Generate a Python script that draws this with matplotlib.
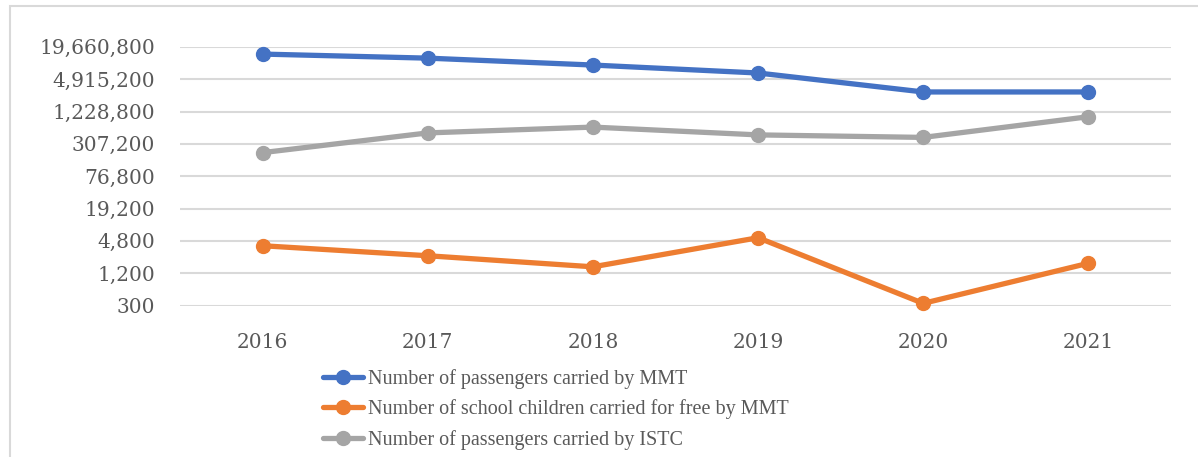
import matplotlib.pyplot as plt
from matplotlib.patches import Rectangle
from matplotlib.ticker import FixedLocator

# Data (log scale, base 4)
years = ["2016", "2017", "2018", "2019", "2020", "2021"]
mmt_passengers = [14400000, 12100000, 9000000, 6400000, 2840000, 2840000]
mmt_school_children = [3900, 2540, 1580, 5500, 330, 1840]
istc_passengers = [211000, 491000, 630000, 451000, 405000, 983000]
y_ticks = [300, 1200, 4800, 19200, 76800, 307200, 1228800, 4915200, 19660800]

labels = ["Number of passengers carried by MMT",
          "Number of school children carried for free by MMT",
          "Number of passengers carried by ISTC"]
colors = ["#4472C4", "#ED7D31", "#A5A5A5"]

fig = plt.figure(figsize=(11.98, 4.57), dpi=100)
ax = fig.add_axes([180 / 1198, 1 - 305.7 / 457, 991 / 1198, (305.7 - 46.7) / 457])

x = list(range(len(years)))
for series, lab, col in zip([mmt_passengers, mmt_school_children, istc_passengers], labels, colors):
    ax.plot(x, series, color=col, lw=3.8, marker="o", markersize=10,
            label=lab, clip_on=False, solid_capstyle="round")

ax.set_yscale("log")
ax.set_ylim(300 / 1.005, 19660800 * 1.005)
ax.set_xlim(-0.5, len(years) - 0.5)
ax.yaxis.set_major_locator(FixedLocator(y_ticks))
ax.yaxis.set_minor_locator(FixedLocator([]))
ax.set_yticklabels([f"{v:,}" for v in y_ticks])
ax.set_xticks(x)
ax.set_xticklabels(years)

ax.grid(axis="y", color="#D9D9D9", lw=1.5)
ax.set_axisbelow(True)
for s in ax.spines.values():
    s.set_visible(False)
ax.tick_params(axis="both", length=0, colors="#595959", labelsize=14.5)
ax.tick_params(axis="y", pad=18)
ax.tick_params(axis="x", pad=20)
for t in ax.get_xticklabels() + ax.get_yticklabels():
    t.set_fontfamily("DejaVu Serif")

leg = fig.legend(loc="upper left", bbox_to_anchor=(323 / 1198, 1 - 369 / 457),
                 frameon=False, borderpad=0, borderaxespad=0,
                 handlelength=2.0, handletextpad=0.25, labelspacing=0.52,
                 prop={"family": "Liberation Serif", "size": 14.5})
for t in leg.get_texts():
    t.set_color("#595959")

# chart area border (cropped on right and bottom)
fig.add_artist(Rectangle((9.5 / 1198, -0.1), 1.2, 1.1 - 6 / 457,
                         transform=fig.transFigure, fill=False,
                         edgecolor="#D9D9D9", lw=1.5))

fig.savefig("out.png", dpi=100)
